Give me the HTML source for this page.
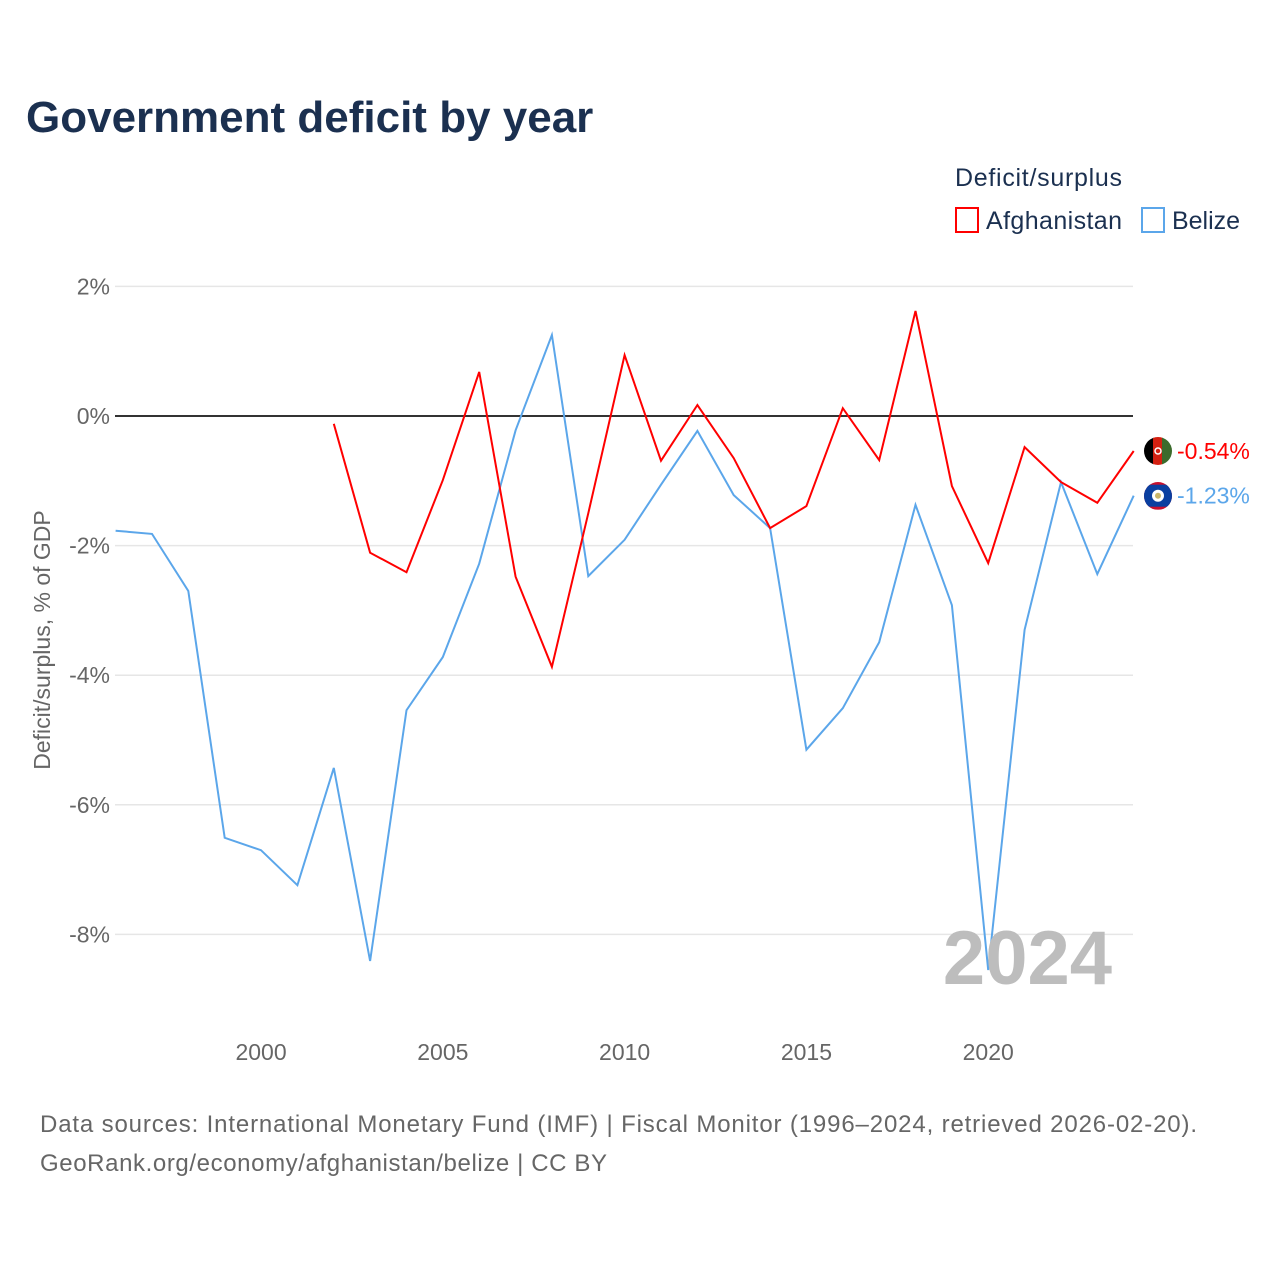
<!DOCTYPE html>
<html><head><meta charset="utf-8"><style>
body{margin:0;background:#fff;font-family:"Liberation Sans",sans-serif}
</style></head><body>
<svg id="chart" width="1280" height="1280" xmlns="http://www.w3.org/2000/svg" font-family="Liberation Sans, sans-serif">
<rect width="1280" height="1280" fill="#fff"/>
<text x="26" y="132" font-size="44" font-weight="bold" fill="#1b3050">Government deficit by year</text>
<text x="955" y="186" font-size="25" fill="#1b3050" textLength="167">Deficit/surplus</text>
<g><rect x="956" y="208" width="22" height="24" fill="none" stroke="#f00" stroke-width="2"/><text x="986" y="229" font-size="25" fill="#1b3050" textLength="136">Afghanistan</text></g>
<g><rect x="1142" y="208" width="22" height="24" fill="none" stroke="#5ba6ea" stroke-width="2"/><text x="1172" y="229" font-size="25" fill="#1b3050" textLength="68">Belize</text></g>
<text transform="translate(50,640) rotate(-90)" text-anchor="middle" font-size="23" fill="#666">Deficit/surplus, % of GDP</text>
<defs>
<clipPath id="c1"><circle cx="1158" cy="451" r="14"/></clipPath>
<clipPath id="c2"><circle cx="1158" cy="496" r="14"/></clipPath>
</defs>
<g id="grid"></g><g id="series"></g>
<text x="1112" y="984" text-anchor="end" font-size="76" font-weight="bold" fill="#bdbdbd">2024</text>
<text x="40" y="1132" font-size="24" fill="#666" textLength="1157">Data sources: International Monetary Fund (IMF) | Fiscal Monitor (1996–2024, retrieved 2026-02-20).</text>
<text x="40" y="1171" font-size="24" fill="#666" textLength="567">GeoRank.org/economy/afghanistan/belize | CC BY</text>
</svg>
<script>
const years=[1996,1997,1998,1999,2000,2001,2002,2003,2004,2005,2006,2007,2008,2009,2010,2011,2012,2013,2014,2015,2016,2017,2018,2019,2020,2021,2022,2023,2024];
const belize=[-1.77,-1.82,-2.70,-6.51,-6.70,-7.24,-5.43,-8.41,-4.54,-3.72,-2.28,-0.22,1.25,-2.47,-1.91,-1.06,-0.23,-1.22,-1.73,-5.15,-4.51,-3.49,-1.37,-2.92,-8.55,-3.30,-1.02,-2.44,-1.23];
const afghanistan=[null,null,null,null,null,null,-0.12,-2.11,-2.41,-0.99,0.68,-2.48,-3.87,-1.5,0.94,-0.69,0.17,-0.65,-1.73,-1.39,0.12,-0.68,1.62,-1.08,-2.27,-0.48,-1.02,-1.34,-0.54];
const yTicks=[2,0,-2,-4,-6,-8];
const xTicks=[2000,2005,2010,2015,2020];
const NS="http://www.w3.org/2000/svg";
const x=v=>115.6+(v-1996)*36.36;
const y=v=>416-v*64.8;
const grid=document.getElementById('grid'),ser=document.getElementById('series');
function mk(tag,attrs,parent){const e=document.createElementNS(NS,tag);for(const k in attrs)e.setAttribute(k,attrs[k]);parent.appendChild(e);return e;}
yTicks.forEach(t=>{
 const l=mk('line',{x1:115,x2:1133,y1:y(t),y2:y(t),stroke:t===0?'#333':'#e6e6e6','stroke-width':t===0?2:1.5},grid);
 
 
 const tx=mk('text',{x:110,y:y(t)+8,'text-anchor':'end','font-size':23,fill:'#666'},grid);
 tx.textContent=t+'%';
 
 
});
xTicks.forEach(t=>{
 const tx=mk('text',{x:x(t),y:1060,'text-anchor':'middle','font-size':23,fill:'#666'},grid);
 tx.textContent=t;
 
 
});
function line(vals,color,name,flag){
 let d='';vals.forEach((v,i)=>{if(v===null)return;d+=(d?'L':'M')+x(years[i]).toFixed(1)+','+y(v).toFixed(1);});
 const p=mk('path',{d,fill:'none',stroke:color,'stroke-width':2},ser);
 
 
 const last=vals[vals.length-1];
 const cy=y(last);
 const g=mk('g',{},ser);
 
 
 flag(g,cy);
 const lbl=mk('text',{x:1177,y:cy+8,'font-size':23,fill:color},ser);
 lbl.textContent=last.toFixed(2)+'%';
 
 
}
line(belize,'#5ba6ea','belize',(g,cy)=>{
 const gg=mk('g',{'clip-path':'url(#c2)'},g);
 mk('rect',{x:1144,y:cy-14,width:28,height:28,fill:'#c8102e'},gg);
 mk('rect',{x:1144,y:cy-11,width:28,height:22,fill:'#0a3fa0'},gg);
 mk('circle',{cx:1158,cy:cy,r:6,fill:'#fff'},gg);
 mk('circle',{cx:1158,cy:cy,r:3,fill:'#c9b66a'},gg);
});
line(afghanistan,'#f00','afghanistan',(g,cy)=>{
 const gg=mk('g',{'clip-path':'url(#c1)'},g);
 mk('rect',{x:1144,y:cy-14,width:10,height:28,fill:'#000'},gg);
 mk('rect',{x:1153,y:cy-14,width:10,height:28,fill:'#d32011'},gg);
 mk('rect',{x:1162,y:cy-14,width:10,height:28,fill:'#3b6b2c'},gg);
 mk('circle',{cx:1158,cy:cy,r:3,fill:'none',stroke:'#fff','stroke-width':1.5},gg);
});
</script>
</body></html>
